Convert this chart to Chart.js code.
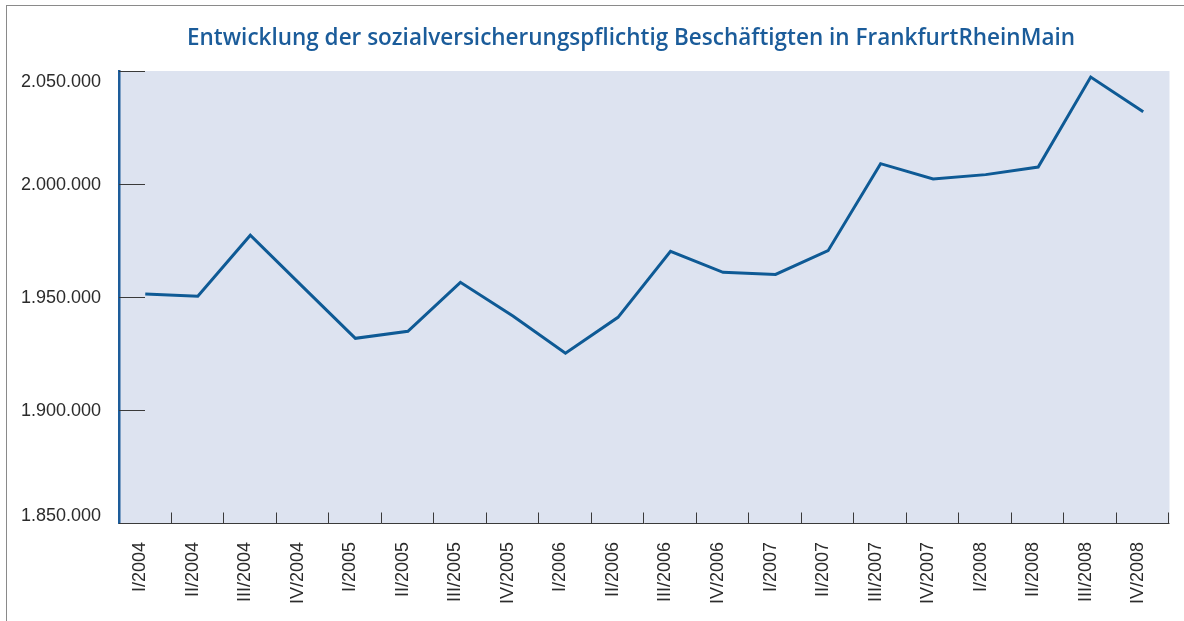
<!DOCTYPE html>
<html><head><meta charset="utf-8">
<script src="https://cdn.jsdelivr.net/npm/chart.js@4/dist/chart.umd.min.js"></script>
<style>
html,body{margin:0;padding:0;background:#fff;overflow:hidden}
#frame{position:absolute;left:6px;top:5px;width:1400px;height:800px;border:1px solid #8a8a8a}
#wrap{position:absolute;left:0;top:0;width:1184px;height:621px}
</style></head><body>
<div id="frame"></div>
<div id="wrap"><canvas id="c" width="1184" height="621"></canvas></div>
<script>
const TITLE = 'Entwicklung der sozialversicherungspflichtig Beschäftigten in FrankfurtRheinMain';
const categories = ['I/2004','II/2004','III/2004','IV/2004','I/2005','II/2005','III/2005','IV/2005',
  'I/2006','II/2006','III/2006','IV/2006','I/2007','II/2007','III/2007','IV/2007',
  'I/2008','II/2008','III/2008','IV/2008'];
const employees = [1951300,1950300,1977300,1954500,1931700,1934800,1956500,1941600,
  1925100,1941000,1970200,1960900,1960000,1970500,2009000,2002200,
  2004150,2007500,2047300,2032000];
const yTicks = [1850000,1900000,1950000,2000000,2050000];

const fmt = v => String(Math.round(v)).replace(/\B(?=(\d{3})+(?!\d))/g, '.');

const deco = {
  id: 'deco',
  beforeDraw(chart) {
    const {ctx, chartArea: a} = chart;
    ctx.save();
    ctx.fillStyle = '#dde3f0';
    ctx.fillRect(a.left, a.top, a.right - a.left, a.bottom - a.top);
    ctx.restore();
  },
  beforeDatasetsDraw(chart) {
    const {ctx, chartArea: a, scales: {x, y}} = chart;
    ctx.save();
    ctx.strokeStyle = '#3a3a3a';
    ctx.lineWidth = 1;
    ctx.beginPath();
    const by = Math.round(a.bottom) + 0.5;
    ctx.moveTo(a.left, by); ctx.lineTo(a.right, by);
    const half = (x.getPixelForValue(1) - x.getPixelForValue(0)) / 2;
    for (let i = 0; i < categories.length; i++) {
      const px = Math.round(x.getPixelForValue(i) + half) - 0.5;
      ctx.moveTo(px, by); ctx.lineTo(px, by - 11);
    }
    for (const v of yTicks) {
      const py = Math.round(y.getPixelForValue(v)) + 0.5;
      ctx.moveTo(a.left, py); ctx.lineTo(a.left + 26, py);
    }
    ctx.stroke();
    ctx.restore();
  },
  afterDraw(chart) {
    const {ctx, chartArea: a, scales: {y}} = chart;
    ctx.save();
    ctx.font = '18px "Liberation Sans", Arial, sans-serif';
    ctx.fillStyle = '#2b2b2b';
    ctx.textAlign = 'right';
    ctx.textBaseline = 'middle';
    yTicks.forEach((v, i) => {
      let py = y.getPixelForValue(v);
      if (i === yTicks.length - 1) py += 10;
      if (i === 0) py -= 8;
      ctx.fillText(fmt(v), a.left - 18, py + 1);
    });
    ctx.restore();
    // title: 24px semibold, compressed horizontally to the reference width
    ctx.save();
    ctx.font = '600 24px "Open Sans", sans-serif';
    const w = ctx.measureText(TITLE).width;
    const sx = 888 / w;
    ctx.fillStyle = '#1b5c9a';
    ctx.textAlign = 'left';
    ctx.textBaseline = 'alphabetic';
    ctx.translate(187, 45);
    ctx.scale(sx, 1);
    ctx.fillText(TITLE, 0, 0);
    ctx.restore();
  }
};

new Chart(document.getElementById('c'), {
  type: 'line',
  data: {
    labels: categories,
    datasets: [{
      data: employees,
      borderColor: '#0e5a95',
      borderWidth: 3,
      pointRadius: 0,
      tension: 0,
      fill: false
    }]
  },
  options: {
    responsive: false,
    animation: false,
    layout: {padding: {top: 71, right: 7, left: 0, bottom: 0}},
    plugins: {legend: {display: false}, tooltip: {enabled: false}, title: {display: false}},
    scales: {
      x: {
        type: 'category',
        offset: true,
        grid: {display: false, drawTicks: false},
        border: {display: false},
        ticks: {
          autoSkip: false, maxRotation: 90, minRotation: 90, padding: 19, labelOffset: -5,
          color: '#2b2b2b', font: {family: '"Liberation Sans", Arial, sans-serif', size: 18}
        },
        afterFit(s) { s.height = 98; }
      },
      y: {
        min: 1850000, max: 2050000,
        grid: {display: false, drawTicks: false},
        border: {display: true, color: '#1d5c9a', width: 2.5},
        ticks: {display: false, stepSize: 50000},
        afterFit(s) { s.width = 119; }
      }
    }
  },
  plugins: [deco]
});
</script>
</body></html>
